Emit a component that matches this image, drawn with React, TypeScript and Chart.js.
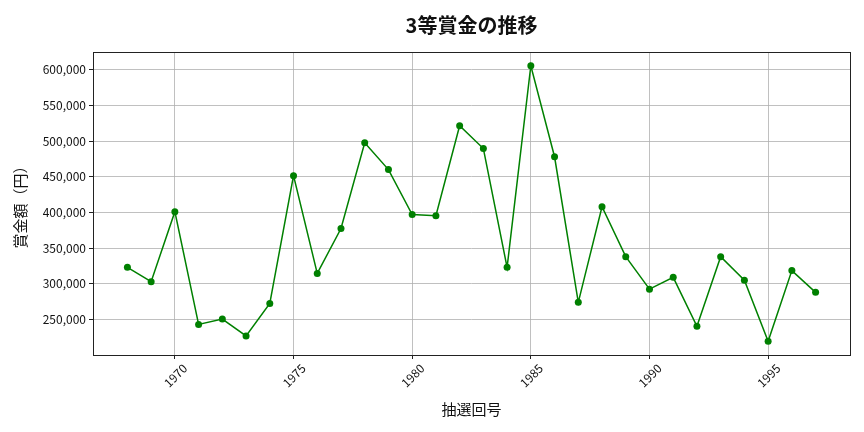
import React, { useEffect, useRef } from "react";
import { Chart, registerables } from "chart.js";

Chart.register(...registerables);

const years = [
  1968, 1969, 1970, 1971, 1972, 1973, 1974, 1975, 1976, 1977,
  1978, 1979, 1980, 1981, 1982, 1983, 1984, 1985, 1986, 1987,
  1988, 1989, 1990, 1991, 1992, 1993, 1994, 1995, 1996, 1997,
];
const prizes = [
  323000, 303000, 401000, 243000, 250500, 227000, 272500, 451500, 314500, 377500,
  497500, 460000, 397000, 395500, 521500, 489500, 323000, 605500, 478000, 274000,
  408000, 338000, 292500, 309000, 240500, 338000, 305000, 219500, 318500, 288000,
];
const xTicks = [1970, 1975, 1980, 1985, 1990, 1995];
const yTicks = [250000, 300000, 350000, 400000, 450000, 500000, 550000, 600000];

const titleText = "3等賞金の推移";
const xTitle = "抽選回号";
const yTitle = "賞金額（円）";

const FONT = "'Noto Sans CJK JP', 'Noto Sans', sans-serif";

export default function App() {
  const ref = useRef<HTMLCanvasElement | null>(null);

  useEffect(() => {
    document.body.style.margin = "0";
    const canvas = ref.current;
    if (!canvas) return;

    const xmin = Math.min(...years);
    const xmax = Math.max(...years);
    const xpad = (xmax - xmin) * 0.05;
    const ymin = Math.min(...prizes);
    const ymax = Math.max(...prizes);
    const ypad = (ymax - ymin) * 0.05;

    const framePlugin = {
      id: "frame",
      afterDatasetsDraw(chart: any) {
        const { ctx, chartArea } = chart;
        ctx.save();
        ctx.strokeStyle = "#222";
        ctx.lineWidth = 1;
        ctx.strokeRect(
          Math.round(chartArea.left) + 0.5,
          Math.round(chartArea.top) + 0.5,
          Math.round(chartArea.right - chartArea.left),
          Math.round(chartArea.bottom - chartArea.top)
        );
        ctx.fillStyle = "#111";
        ctx.font = `bold 20px ${FONT}`;
        ctx.textAlign = "center";
        ctx.textBaseline = "middle";
        ctx.fillText(titleText, (chartArea.left + chartArea.right) / 2, 25);
        ctx.restore();
      },
    };

    const chart = new Chart(canvas, {
      type: "line",
      data: {
        datasets: [
          {
            data: years.map((y, i) => ({ x: y, y: prizes[i] })),
            borderColor: "#008000",
            backgroundColor: "#008000",
            borderWidth: 1.5,
            pointRadius: 3.5,
            pointHoverRadius: 3.5,
            pointBackgroundColor: "#008000",
            pointBorderWidth: 0,
            tension: 0,
            clip: false as any,
          },
        ],
      },
      options: {
        animation: false,
        responsive: false,
        devicePixelRatio: 1,
        layout: { padding: { left: 0, right: 14, top: 52, bottom: 0 } },
        plugins: {
          legend: { display: false },
          tooltip: { enabled: false },
          title: { display: false },
        },
        scales: {
          x: {
            type: "linear",
            min: xmin - xpad,
            max: xmax + xpad,
            afterBuildTicks: (scale: any) => {
              scale.ticks = xTicks.map((v) => ({ value: v }));
            },
            afterFit: (scale: any) => {
              scale.height = 77;
            },
            grid: {
              color: "#b0b0b0",
              lineWidth: 0.8,
              drawTicks: true,
              tickLength: 4,
              tickColor: "#222",
              tickWidth: 1,
            },
            border: { display: false },
            ticks: {
              autoSkip: false,
              minRotation: 45,
              maxRotation: 45,
              padding: 2,
              labelOffset: 10,
              color: "#111",
              font: { family: FONT, size: 12 },
              callback: (v: any) => String(v),
            },
            title: {
              display: true,
              text: xTitle,
              color: "#111",
              font: { family: FONT, size: 15, lineHeight: 1.2 },
              padding: { top: 0, bottom: 14 },
            },
          },
          y: {
            type: "linear",
            min: ymin - ypad,
            max: ymax + ypad,
            afterBuildTicks: (scale: any) => {
              scale.ticks = yTicks.map((v) => ({ value: v }));
            },
            afterFit: (scale: any) => {
              scale.width = 93;
            },
            grid: {
              color: "#b0b0b0",
              lineWidth: 0.8,
              drawTicks: true,
              tickLength: 4,
              tickColor: "#222",
              tickWidth: 1,
            },
            border: { display: false },
            ticks: {
              padding: 3,
              color: "#111",
              font: { family: FONT, size: 12 },
              callback: (v: any) => Number(v).toLocaleString("en-US"),
            },
            title: {
              display: true,
              text: yTitle,
              color: "#111",
              font: { family: FONT, size: 15, lineHeight: 1.2 },
              padding: { top: 11, bottom: 0 },
            },
          },
        },
      },
      plugins: [framePlugin],
    });

    return () => chart.destroy();
  }, []);

  return (
    <div style={{ width: 864, height: 432, position: "relative" }}>
      <canvas ref={ref} width={864} height={432} style={{ display: "block" }} />
    </div>
  );
}
